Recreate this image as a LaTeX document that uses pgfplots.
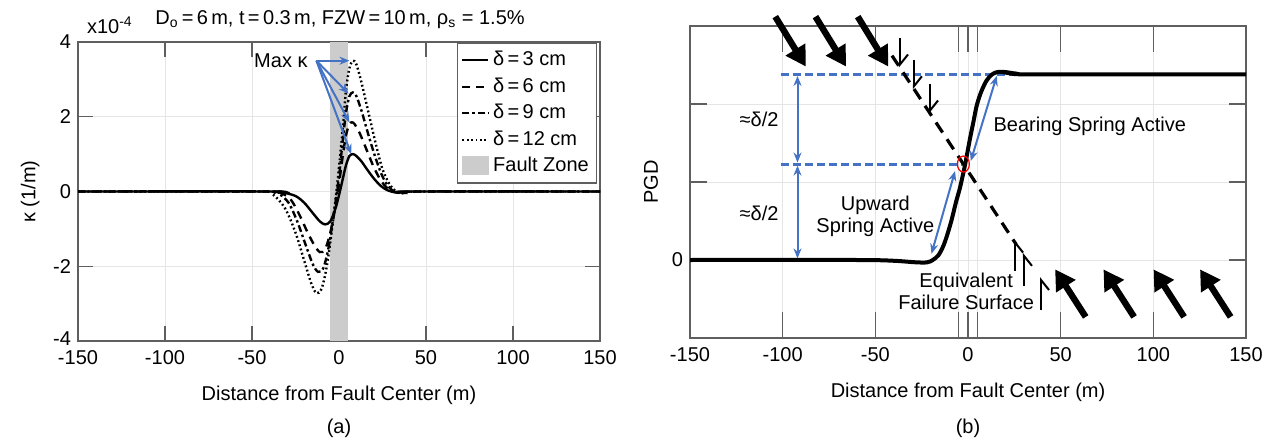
\documentclass[border=0pt]{standalone}
\usepackage{fontspec}
\setmainfont{Liberation Sans}
\usepackage{pgfplots}
\pgfplotsset{compat=1.18}
\usetikzlibrary{arrows.meta}

\definecolor{mblue}{RGB}{68,114,196}
\definecolor{axgray}{RGB}{95,95,95}
\newcommand{\fs}{\fontsize{10}{12}\selectfont}

\pgfplotsset{
  matlab/.style={
    scale only axis, clip=false,
    axis line style={draw=axgray, line width=0.7pt},
    every tick/.style={draw=axgray, line width=0.7pt},
    tick align=inside,
    grid=major,
    major grid style={draw=black!10, line width=0.4pt},
    xmin=-150, xmax=150,
    xtick={-150,-100,...,150},
    xticklabels={-150,-100,-50,0,50,100,150},
    extra x ticks={-5,5},
    extra x tick labels={},
    extra x tick style={grid=major},
    xlabel={Distance from Fault Center (m)},
    tick label style={font=\fs},
    xticklabel style={yshift=-1pt},
    label style={font=\fs},
    xlabel style={yshift=-4pt},
  },
}
\tikzset{
  blarrow/.style={mblue, line width=1pt, -{Stealth[length=5pt,width=4pt]}},
  bldouble/.style={mblue, line width=1pt, {Stealth[length=5pt,width=4pt]}-{Stealth[length=5pt,width=4pt]}},
  harpd/.style={line width=1pt, -{Straight Barb[left,length=5pt,width=8pt]}},
  harpu/.style={line width=1pt, -{Straight Barb[right,length=5pt,width=8pt]}},
  bigarrow/.style={line width=3.2pt, -{Triangle[length=10pt,width=11pt]}},
  bldash/.style={mblue, line width=1.5pt, dash pattern=on 4pt off 2pt},
}

\begin{document}
\begin{tikzpicture}[font=\fs]
\useasboundingbox (0,0) rectangle (634.5pt,220pt);

% (a) curvature
\begin{axis}[matlab, at={(39pt,49.5pt)}, anchor=south west,
  width=261pt, height=149.5pt,
  ymin=-4, ymax=4, ytick={-4,-2,...,4},
  yticklabels={\raisebox{2.5pt}{-4},-2,0,2,4},
  ylabel={κ (1/m)}, major tick length=7.5pt,
  legend cell align=left,
  legend style={at={(rel axis cs:0.995,0.997)}, anchor=north east,
    draw=axgray, line width=0.6pt, font=\fs, row sep=0.5pt,
    inner sep=2pt},
  legend image code/.code={\draw[#1] (0cm,0cm) -- (0.45cm,0cm);},
]
\addplot[fill=black!20, draw=none, forget plot] coordinates {(-5,-4) (-5,4) (5,4) (5,-4)} -- cycle;
\draw[white!80!black, line width=0.5pt] (axis cs:0,-4) -- (axis cs:0,4);

\addplot[black, line width=1.2pt, smooth] coordinates {
 (-150,0) (-40,0) (-32,-0.03) (-25,-0.12) (-20,-0.3) (-15,-0.58) (-11,-0.8) (-8,-0.88)
 (-5,-0.8) (-2,-0.45) (0,-0.1) (2,0.3) (4,0.7) (6,0.95) (8,1.0) (10,0.95) (13,0.8)
 (16,0.6) (20,0.35) (24,0.15) (28,0.03) (32,-0.02) (36,-0.02) (42,0) (150,0)};
\addlegendentry{δ\,=\,3 cm}
\addplot[black, line width=1.2pt, smooth, dash pattern=on 4pt off 3pt] coordinates {
 (-150,0) (-40,0) (-34,-0.03) (-28,-0.2) (-23,-0.6) (-18,-1.1) (-14,-1.45) (-11,-1.62)
 (-8,-1.55) (-5,-1.1) (-2,-0.4) (0,0.2) (2,0.9) (4,1.5) (6,1.8) (7.5,1.85) (9,1.8)
 (12,1.55) (16,1.1) (20,0.65) (24,0.3) (28,0.08) (32,-0.02) (37,-0.03) (44,0) (150,0)};
\addlegendentry{δ\,=\,6 cm}
\addplot[black, line width=1.2pt, smooth, dash pattern=on 3.5pt off 1.5pt on 1.2pt off 1.5pt] coordinates {
 (-150,0) (-42,0) (-35,-0.05) (-29,-0.3) (-24,-0.8) (-19,-1.45) (-15,-1.95) (-12,-2.15)
 (-9,-2.05) (-6,-1.5) (-3,-0.6) (0,0.4) (2,1.3) (4,2.1) (6,2.55) (8,2.65) (10,2.55)
 (13,2.15) (17,1.5) (21,0.9) (25,0.4) (29,0.1) (33,-0.03) (38,-0.04) (46,0) (150,0)};
\addlegendentry{δ\,=\,9 cm}
\addplot[black, line width=1.2pt, smooth, dash pattern=on 0.9pt off 1.3pt] coordinates {
 (-150,0) (-45,0) (-38,-0.08) (-31,-0.45) (-25,-1.1) (-20,-1.85) (-16,-2.45) (-13,-2.72)
 (-10,-2.6) (-7,-2.0) (-4,-1.0) (-1,0.2) (2,1.6) (4,2.7) (6,3.3) (8,3.5) (10,3.4)
 (13,2.9) (17,2.1) (21,1.3) (25,0.6) (29,0.2) (33,0.0) (38,-0.05) (46,0) (150,0)};
\addlegendentry{δ\,=\,12 cm}
\addlegendimage{legend image code/.code={\fill[black!20] (0cm,-0.14cm) rectangle (0.45cm,0.17cm);}}
\addlegendentry{Fault Zone}

\node[anchor=east] at (axis cs:-14,3.5) {Max κ};
\draw[blarrow] (axis cs:-13,3.5) -- (axis cs:6,3.5);
\draw[blarrow] (axis cs:-13,3.5) -- (axis cs:5.5,2.62);
\draw[blarrow] (axis cs:-13,3.5) -- (axis cs:6,1.85);
\draw[blarrow] (axis cs:-13,3.5) -- (axis cs:7,1.0);
\end{axis}

% (b) PGD
\begin{axis}[matlab, at={(345pt,51pt)}, anchor=south west,
  width=278pt, height=156pt,
  ymin=-1, ymax=3, ytick={0,1,2}, yticklabels={0,{},{}},
  ylabel={PGD}, major tick length=8.5pt,
  xtick style={/pgfplots/major tick length=13pt},
]
\addplot[bldash] coordinates {(-101,2.38) (25,2.38)};
\addplot[bldash] coordinates {(-101,1.23) (-3,1.23)};
\addplot[black, line width=1.6pt, dash pattern=on 6pt off 4pt] coordinates {(-41,2.62) (26,0.2)};
\addplot[black, line width=2pt, smooth] coordinates {
 (-150,0) (-60,0) (-40,-0.01) (-28,-0.03) (-22,-0.03) (-19,0) (-16,0.06) (-13.5,0.17)
 (-11.5,0.3) (-9,0.5) (-6.5,0.74) (-4.3,0.93) (-1.6,1.22) (1.1,1.56) (3,1.78) (4.7,1.98)
 (7,2.15) (10,2.30) (13,2.38) (16,2.41) (20,2.41) (26,2.39) (35,2.38) (150,2.38)};

\draw[red, line width=0.6pt] (axis cs:-2.5,1.23) ellipse [x radius=3pt, y radius=4pt];

\draw[bldouble] (axis cs:-92,2.36) -- (axis cs:-92,1.25);
\draw[bldouble] (axis cs:-92,1.21) -- (axis cs:-92,0.02);
\node at (axis cs:-112.7,1.8) {≈δ/2};
\node at (axis cs:-112.7,0.6) {≈δ/2};

\draw[bldouble] (axis cs:1.5,1.27) -- (axis cs:15.5,2.36);
\draw[bldouble] (axis cs:-7,1.14) -- (axis cs:-19.7,0.08);
\node[anchor=west] at (axis cs:10,1.72) {Bearing Spring Active};
\node[align=center, font=\fontsize{10}{11}\selectfont] at (axis cs:-50,0.56) {Upward\\Spring Active};
\node[align=center, font=\fontsize{10}{11}\selectfont] at (axis cs:-1,-0.4) {Equivalent\\Failure Surface};

% shear harpoons along the failure surface
\draw[harpd] (axis cs:-36.7,2.84) -- (axis cs:-36.7,2.47);
\draw[harpd] (axis cs:-29.2,2.56) -- (axis cs:-29.2,2.19);
\draw[harpd] (axis cs:-20.5,2.25) -- (axis cs:-20.5,1.88);
\draw[harpu] (axis cs:25.4,-0.14) -- (axis cs:25.4,0.26);
\draw[harpu] (axis cs:30.2,-0.33) -- (axis cs:30.2,0.09);
\draw[harpu] (axis cs:39.4,-0.64) -- (axis cs:39.4,-0.22);

% ground movement arrows
\draw[bigarrow] (axis cs:-104,3.12) -- (axis cs:-87.5,2.48);
\draw[bigarrow] (axis cs:-82.3,3.12) -- (axis cs:-65.8,2.48);
\draw[bigarrow] (axis cs:-59.5,3.12) -- (axis cs:-43,2.48);
\draw[bigarrow] (axis cs:63.5,-0.73) -- (axis cs:47,-0.12);
\draw[bigarrow] (axis cs:89.6,-0.73) -- (axis cs:73.1,-0.12);
\draw[bigarrow] (axis cs:116.6,-0.73) -- (axis cs:100.1,-0.12);
\draw[bigarrow] (axis cs:141.7,-0.73) -- (axis cs:125.2,-0.12);
\end{axis}

\node at (170pt,210pt) {D\textsubscript{o}\,=\,6\,m, t\,=\,0.3\,m, FZW\,=\,10\,m, ρ\textsubscript{s} = 1.5\%};
\node[anchor=base west] at (40pt,203pt) {x10\textsuperscript{-4}};
\node at (169.5pt,6pt) {(a)};
\node at (484pt,6pt) {(b)};
\end{tikzpicture}
\end{document}
